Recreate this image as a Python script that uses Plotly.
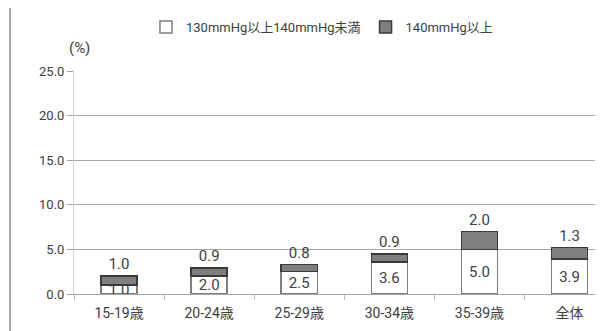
import plotly.graph_objects as go

categories = ["15-19歳", "20-24歳", "25-29歳", "30-34歳", "35-39歳", "全体"]
val_130_140 = [1.0, 2.0, 2.5, 3.6, 5.0, 3.9]
val_140_over = [1.0, 0.9, 0.8, 0.9, 2.0, 1.3]
y_ticks = [0, 5, 10, 15, 20, 25]
series_names = ["130mmHg以上140mmHg未満", "140mmHg以上"]

FONT = "Roboto, Noto Sans CJK JP, sans-serif"
TXT = "#404040"

fig = go.Figure()
fig.add_trace(go.Bar(
    x=categories, y=val_130_140, name=series_names[0],
    marker=dict(color="white", line=dict(color="#7f7f7f", width=1.5)),
    width=0.4,
    text=[f"{v:.1f}" for v in val_130_140],
    textposition="inside", insidetextanchor="middle", constraintext="none",
    textfont=dict(family=FONT, size=15, color=TXT),
    cliponaxis=False,
))
fig.add_trace(go.Bar(
    x=categories, y=val_140_over, name=series_names[1],
    marker=dict(color="#7f7f7f", line=dict(color="#3a3a3a", width=1.5)),
    width=0.4,
    text=[f"{v:.1f}" for v in val_140_over],
    textposition="outside", constraintext="none",
    textfont=dict(family=FONT, size=15, color=TXT),
    cliponaxis=False,
))

fig.update_layout(
    width=603, height=331,
    barmode="stack",
    paper_bgcolor="white", plot_bgcolor="white",
    margin=dict(l=66, r=0, t=63, b=45, autoexpand=False),
    font=dict(family=FONT, size=13, color=TXT),
    showlegend=True,
    legend=dict(orientation="h", x=0.134, xanchor="left",
                yref="container", y=1 - 19 / 331, yanchor="middle",
                font=dict(family=FONT, size=13, color=TXT),
                itemwidth=30, traceorder="normal", bgcolor="rgba(0,0,0,0)"),
    xaxis=dict(type="category", range=[-0.5, 5.46], showgrid=False, automargin=False,
               showline=True, linecolor="#a6a6a6", linewidth=1,
               ticks="outside", tickson="boundaries", ticklen=5, tickcolor="#bfbfbf",
               ticklabelstandoff=6, tickfont=dict(family=FONT, size=14, color=TXT)),
    yaxis=dict(range=[0, 25], tickvals=y_ticks, tickformat=".1f", automargin=False,
               showgrid=True, gridcolor="#a6a6a6", gridwidth=1,
               showline=True, linecolor="#d0d0d0", linewidth=1,
               ticks="outside", ticklen=6, tickcolor="#a6a6a6",
               zeroline=False, tickfont=dict(family=FONT, size=13, color=TXT)),
    annotations=[dict(text="(%)", xref="paper", yref="paper", x=-0.013, y=1.103,
                      xanchor="left", yanchor="middle", showarrow=False,
                      font=dict(family=FONT, size=15, color=TXT))],
    shapes=[dict(type="line", xref="paper", yref="paper",
                 x0=-0.119, x1=-0.119, y0=-0.3, y1=1.5,
                 line=dict(color="#8c8c8c", width=1.5))],
)

fig.write_html("out.html")
